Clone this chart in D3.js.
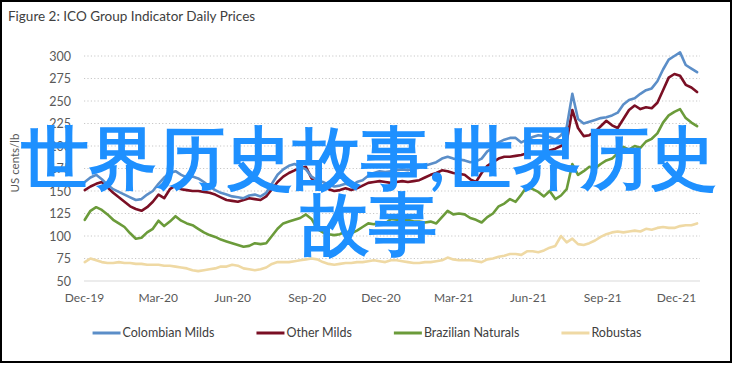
<!DOCTYPE html>
<html><head><meta charset="utf-8">
<script src="https://cdn.jsdelivr.net/npm/d3@7"></script>
<style>
html,body{margin:0;padding:0;background:#fff;}
svg{display:block;}
text{font-family:Lato,"Open Sans",sans-serif;}
</style></head>
<body><svg id="c" width="736" height="365"></svg>
<script>
// ---- data (weekly observations, starting 2019-12-02) ----
const startDate = "2019-12-02";
const stepDays = 7;
const colombianMilds = [160,165,168,163,157,152,149,146,143,140,141,146,150,158,165,170,172,168,165,166,164,160,155,151,148,146,144,143,142,145,146,144,148,158,168,174,178,180,177,174,166,162,160,157,155,156,158,156,160,162,167,170,172,171,172,173,174,173,175,176,178,180,182,186,188,186,185,184,182,183,186,194,198,204,207,209,209,204,207,210,212,211,210,207,212,221,258,230,225,227,229,231,232,234,237,246,251,253,258,262,264,272,285,296,300,304,290,286,282];
const otherMilds = [151,155,158,160,154,148,143,138,133,130,128,132,138,146,142,152,156,152,151,150,150,149,148,146,143,140,139,138,140,142,141,140,144,152,160,166,170,173,175,177,164,158,155,152,150,151,153,151,153,156,159,160,161,160,159,160,161,160,161,162,165,168,170,173,172,170,169,168,163,160,170,178,182,186,188,188,189,190,192,192,192,193,195,197,200,205,240,220,211,212,216,222,228,223,220,230,240,245,241,243,242,248,262,276,280,278,268,265,260];
const brazilianNaturals = [118,128,132,129,124,118,114,110,103,97,98,104,108,117,111,116,122,117,114,112,108,104,101,99,96,94,92,90,88,89,92,91,92,100,108,114,116,118,120,124,119,108,104,102,101,102,105,103,106,110,114,113,115,114,119,118,117,118,116,116,115,116,114,121,128,124,125,124,120,118,115,121,125,133,136,141,138,146,155,152,149,144,150,141,145,152,180,168,172,177,175,180,184,186,192,199,196,200,198,205,208,214,226,234,238,241,231,226,222];
const robustas = [71,75,73,71,70,70,71,70,70,69,69,68,68,68,67,67,66,65,64,62,61,62,63,64,66,66,68,67,64,63,62,63,65,69,71,71,71,72,73,74,75,74,71,69,68,69,70,70,71,71,72,73,72,71,73,73,72,71,70,70,71,71,72,73,76,74,73,73,73,72,71,74,75,77,78,80,80,79,83,83,82,84,87,89,100,93,97,91,90,92,95,99,102,104,105,104,105,106,105,108,107,109,110,109,109,111,112,112,114];
const seriesNames = ["Colombian Milds","Other Milds","Brazilian Naturals","Robustas"];
const seriesColors = ["#5b8ec8","#7a0f24","#6b9b3a","#efd9a4"];
const tickDates = ["2019-12-01","2020-03-01","2020-06-01","2020-09-01","2020-12-01","2021-03-01","2021-06-01","2021-09-01","2021-12-01"];
const tickLabels = ["Dec-19","Mar-20","Jun-20","Sep-20","Dec-20","Mar-21","Jun-21","Sep-21","Dec-21"];
const yTicks = [50,75,100,125,150,175,200,225,250,275,300];
const titleText = "Figure 2: ICO Group Indicator Daily Prices";
const yAxisTitle = "US cents/lb";
const watermarkLines = ["世界历史故事,世界历史", "故事"];

// ---- build ----
const svg = d3.select("#c");
const parse = d3.utcParse("%Y-%m-%d");
const t0 = parse(startDate);
const dates = colombianMilds.map((_, i) => d3.utcDay.offset(t0, i * stepDays));
const allSeries = [colombianMilds, otherMilds, brazilianNaturals, robustas];

const x = d3.scaleUtc().domain([parse("2019-12-01"), parse("2021-12-01")]).range([84, 676]);
const y = d3.scaleLinear().domain([50, 300]).range([281, 56]);

// frame
svg.append("rect").attr("x",1).attr("y",1).attr("width",730).attr("height",361)
  .attr("fill","#fff").attr("stroke","#000").attr("stroke-width",2);

// title
svg.append("text").attr("x",8).attr("y",21).attr("font-size",13.5).attr("fill","#404040").text(titleText);

// gridlines
const gx0 = 84, gx1 = 700;
svg.append("g").selectAll("line").data(yTicks.filter(v => v > 50)).join("line")
  .attr("x1", gx0).attr("x2", gx1).attr("y1", d => y(d)).attr("y2", d => y(d))
  .attr("stroke","#c8c8c8").attr("stroke-width",1).attr("stroke-dasharray","1.2,2.2");
svg.append("line").attr("x1",gx0).attr("x2",gx1).attr("y1",y(50)).attr("y2",y(50))
  .attr("stroke","#d9d9d9").attr("stroke-width",1);

// y axis
const yAxis = d3.axisLeft(y).tickValues(yTicks).tickSize(0).tickPadding(0);
const ya = svg.append("g").attr("transform","translate(71,0)").call(yAxis);
ya.select(".domain").remove();
ya.selectAll("text").attr("font-family","Lato, sans-serif").attr("font-size",12.5).attr("fill","#595959").attr("dy","0.35em");

// x axis
const xAxis = d3.axisBottom(x).tickValues(tickDates.map(parse)).tickFormat((d, i) => tickLabels[i]).tickSize(0).tickPadding(0);
const xa = svg.append("g").attr("transform","translate(0,293)").call(xAxis);
xa.select(".domain").remove();
xa.selectAll("text").attr("font-family","Lato, sans-serif").attr("font-size",12).attr("fill","#595959").attr("dy","0.71em");

// y title
svg.append("text").attr("transform","translate(19,163) rotate(-90)").attr("text-anchor","middle")
  .attr("font-size",11.5).attr("fill","#595959").text(yAxisTitle);

// lines
const line = d3.line().x((d, i) => x(dates[i])).y(d => y(d)).curve(d3.curveLinear);
const order = [3,2,1,0];
svg.append("g").selectAll("path").data(order).join("path")
  .attr("d", k => line(allSeries[k]))
  .attr("fill","none").attr("stroke", k => seriesColors[k]).attr("stroke-width",2.6)
  .attr("stroke-linejoin","round").attr("stroke-linecap","round");

// legend
const lg = svg.append("g");
const items = seriesNames.map((n, k) => {
  const g = lg.append("g");
  g.append("line").attr("x1",0).attr("x2",28).attr("y1",0).attr("y2",0)
    .attr("stroke",seriesColors[k]).attr("stroke-width",3);
  const t = g.append("text").attr("x",30).attr("y",0).attr("dy","0.35em")
    .attr("font-size",12.5).attr("fill","#404040").text(n);
  return {g, w: 30 + t.node().getComputedTextLength()};
});
const gap = 42;
const total = d3.sum(items, d => d.w) + gap * (items.length - 1);
let cx = 367 - total / 2;
items.forEach(it => { it.g.attr("transform",`translate(${cx},333)`); cx += it.w + gap; });

// watermark overlay
svg.append("g").selectAll("text").data(watermarkLines).join("text")
  .attr("x",369).attr("y",(d,i) => 182 + i * 66).attr("text-anchor","middle")
  .attr("font-family","'Noto Sans CJK SC', sans-serif").attr("font-weight","bold")
  .attr("font-size",68).attr("fill","#1e90ff").text(d => d);
</script></body></html>
